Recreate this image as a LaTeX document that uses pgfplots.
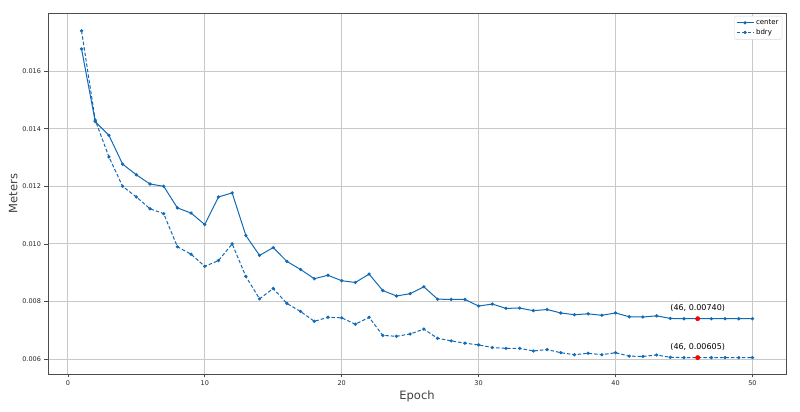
\documentclass[border=0pt]{standalone}
\usepackage{pgfplots}
\pgfplotsset{compat=1.18}
\usepackage{fontspec}
\setmainfont{DejaVu Sans}
\definecolor{cblue}{RGB}{18,106,180}
\definecolor{gridc}{RGB}{200,200,200}
\begin{document}
\begin{tikzpicture}[x=1pt,y=1pt]
\path[use as bounding box] (-48,-38) rectangle (752,374);
\begin{axis}[
  at={(0,0)}, anchor=south west,
  scale only axis, width=738pt, height=361pt,
  xmin=-1.45, xmax=52.45, ymin=0.00548, ymax=0.01802,
  xtick={0,10,20,30,40,50},
  ytick={0.006,0.008,0.010,0.012,0.014,0.016},
  xtick pos=bottom, ytick pos=left,
  yticklabel style={/pgf/number format/.cd,fixed,fixed zerofill,precision=3},
  scaled y ticks=false,
  /pgf/number format/assume math mode=true,
  ticklabel style={font=\fontsize{6.5}{7}\selectfont, text=black!85},
  tick align=outside, major tick length=3.5pt,
  tick style={black!70, line width=0.6pt},
  axis line style={black!70, line width=0.8pt},
  grid=major, major grid style={gridc, line width=0.8pt},
  xlabel={Epoch}, ylabel={Meters},
  label style={font=\fontsize{11.5}{13}\selectfont, text=black!75},
  xlabel style={yshift=2pt},
  ylabel style={yshift=-2pt},
  legend style={at={(0.995,0.992)}, anchor=north east, font=\fontsize{7}{8}\selectfont,
    draw=gray!30, rounded corners=1.5pt, inner sep=1.5pt, row sep=-1pt},
  legend image post style={},
  legend cell align=left,
]
\addplot[cblue, line width=1pt, mark=*, mark size=1.1pt] coordinates {
(1,0.01677)(2,0.01425)(3,0.01377)(4,0.01277)(5,0.0124)(6,0.01208)(7,0.0120)(8,0.01125)(9,0.01107)(10,0.01067)
(11,0.01163)(12,0.01177)(13,0.01029)(14,0.0096)(15,0.00987)(16,0.00939)(17,0.00911)(18,0.00879)(19,0.00891)(20,0.00872)
(21,0.00866)(22,0.00895)(23,0.00838)(24,0.00819)(25,0.00827)(26,0.00851)(27,0.00808)(28,0.00807)(29,0.00807)(30,0.00784)
(31,0.00791)(32,0.00776)(33,0.00777)(34,0.00768)(35,0.00772)(36,0.0076)(37,0.00754)(38,0.00757)(39,0.00752)(40,0.0076)
(41,0.00747)(42,0.00746)(43,0.0075)(44,0.00741)(45,0.0074)(46,0.0074)(47,0.0074)(48,0.0074)(49,0.0074)(50,0.0074)};
\addlegendentry{center}
\addplot[cblue, line width=1pt, dash pattern=on 3.5pt off 2pt, mark=*, mark size=1.1pt, mark options={solid}] coordinates {
(1,0.0174)(2,0.0143)(3,0.01302)(4,0.0120)(5,0.01163)(6,0.01122)(7,0.01105)(8,0.0099)(9,0.00964)(10,0.00922)
(11,0.00942)(12,0.0100)(13,0.00887)(14,0.00809)(15,0.00845)(16,0.00793)(17,0.00765)(18,0.00731)(19,0.00745)(20,0.00743)
(21,0.00721)(22,0.00745)(23,0.00682)(24,0.00679)(25,0.00687)(26,0.00704)(27,0.00672)(28,0.00663)(29,0.00655)(30,0.00649)
(31,0.0064)(32,0.00637)(33,0.00637)(34,0.00628)(35,0.00633)(36,0.00622)(37,0.00615)(38,0.0062)(39,0.00615)(40,0.00622)
(41,0.0061)(42,0.00609)(43,0.00614)(44,0.00606)(45,0.00605)(46,0.00605)(47,0.00605)(48,0.00605)(49,0.00605)(50,0.00605)};
\addlegendentry{bdry}
\addplot[only marks, red, mark=*, mark size=2.2pt, forget plot] coordinates {(46,0.0074)(46,0.00605)};
\node[anchor=south, font=\fontsize{8}{9}\selectfont, yshift=4pt] at (axis cs:46,0.0074) {(46, 0.00740)};
\node[anchor=south, font=\fontsize{8}{9}\selectfont, yshift=4pt] at (axis cs:46,0.00605) {(46, 0.00605)};
\end{axis}
\end{tikzpicture}
\end{document}
